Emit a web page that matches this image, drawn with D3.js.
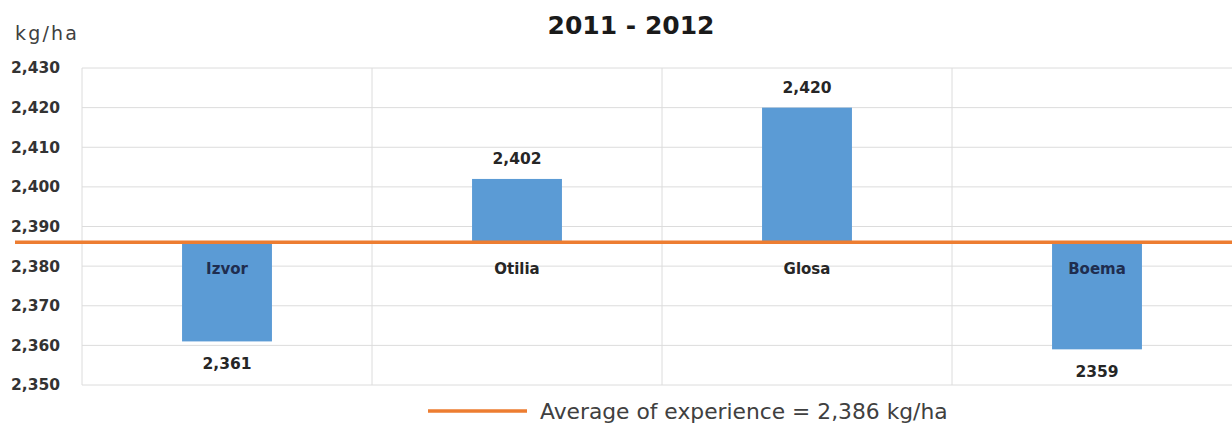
<!DOCTYPE html>
<html>
<head>
<meta charset="utf-8">
<script src="https://cdn.jsdelivr.net/npm/d3@7"></script>
<style>
  html, body { margin: 0; padding: 0; background: #fff; }
  svg { display: block; font-family: "DejaVu Sans", sans-serif; }
</style>
</head>
<body>
<svg id="chart" width="1232" height="423"></svg>
<script>
// Yield per variety, 2011 - 2012
const categories = ["Izvor", "Otilia", "Glosa", "Boema"];
const yields = [2361, 2402, 2420, 2359];
const valueLabels = ["2,361", "2,402", "2,420", "2359"];
const average = 2386;
const yTicks = [2350, 2360, 2370, 2380, 2390, 2400, 2410, 2420, 2430];
const titleText = "2011 - 2012";
const unitText = "kg/ha";
const legendText = "Average of experience = 2,386 kg/ha";

const svg = d3.select("#chart");
const W = 1232, H = 423;
const plot = { left: 82, right: 1242, top: 68, bottom: 385 };

const x = d3.scaleBand().domain(categories).range([plot.left, plot.right]).padding(0);
const y = d3.scaleLinear().domain([2350, 2430]).range([plot.bottom, plot.top]);
const barW = x.bandwidth() * 0.31;

// horizontal gridlines
svg.append("g").selectAll("line").data(yTicks).join("line")
  .attr("x1", plot.left).attr("x2", plot.right)
  .attr("y1", d => y(d)).attr("y2", d => y(d))
  .attr("stroke", "#dcdcdc").attr("stroke-width", 1);

// vertical category separators
svg.append("g").selectAll("line").data(categories).join("line")
  .attr("x1", d => x(d)).attr("x2", d => x(d))
  .attr("y1", plot.top).attr("y2", plot.bottom)
  .attr("stroke", "#dcdcdc").attr("stroke-width", 1);

// y axis labels
const yAxis = d3.axisLeft(y).tickValues(yTicks).tickFormat(d3.format(",")).tickSize(0).tickPadding(22);
const yg = svg.append("g").attr("transform", `translate(${plot.left},0)`).call(yAxis);
yg.select(".domain").remove();
yg.selectAll("text")
  .attr("font-family", "DejaVu Sans, sans-serif")
  .attr("font-size", 15.5).attr("font-weight", "bold").attr("fill", "#333");

// bars from the average line to each value
svg.append("g").selectAll("rect").data(categories).join("rect")
  .attr("x", d => x(d) + (x.bandwidth() - barW) / 2)
  .attr("width", barW)
  .attr("y", (d, i) => y(Math.max(yields[i], average)))
  .attr("height", (d, i) => Math.abs(y(yields[i]) - y(average)))
  .attr("fill", "#5b9bd5");

// average line
svg.append("line")
  .attr("x1", 15).attr("x2", W)
  .attr("y1", y(average)).attr("y2", y(average))
  .attr("stroke", "#ed7d31").attr("stroke-width", 3.5);

// category labels just below the average line
svg.append("g").selectAll("text").data(categories).join("text")
  .attr("x", d => x(d) + x.bandwidth() / 2)
  .attr("y", y(average) + 32)
  .attr("text-anchor", "middle")
  .attr("font-size", 15).attr("font-weight", "bold")
  .attr("fill", (d, i) => yields[i] < average ? "#1f2d4f" : "#262626")
  .text(d => d);

// value labels beyond the bar ends
svg.append("g").selectAll("text").data(categories).join("text")
  .attr("x", d => x(d) + x.bandwidth() / 2)
  .attr("y", (d, i) => yields[i] >= average ? y(yields[i]) - 15 : y(yields[i]) + 28)
  .attr("text-anchor", "middle")
  .attr("font-size", 15.5).attr("font-weight", "bold").attr("fill", "#262626")
  .text((d, i) => valueLabels[i]);

// title
svg.append("text")
  .attr("x", 631).attr("y", 34)
  .attr("text-anchor", "middle")
  .attr("font-size", 25).attr("font-weight", "bold").attr("fill", "#1a1a1a")
  .text(titleText);

// unit label
svg.append("text")
  .attr("x", 15).attr("y", 40)
  .attr("font-size", 19).attr("fill", "#404040")
  .attr("letter-spacing", 2.2)
  .text(unitText);

// legend
svg.append("line")
  .attr("x1", 428).attr("x2", 527)
  .attr("y1", 411).attr("y2", 411)
  .attr("stroke", "#ed7d31").attr("stroke-width", 3.5);
svg.append("text")
  .attr("x", 540).attr("y", 419)
  .attr("font-size", 21.8).attr("fill", "#404040")
  .text(legendText);
</script>
</body>
</html>
